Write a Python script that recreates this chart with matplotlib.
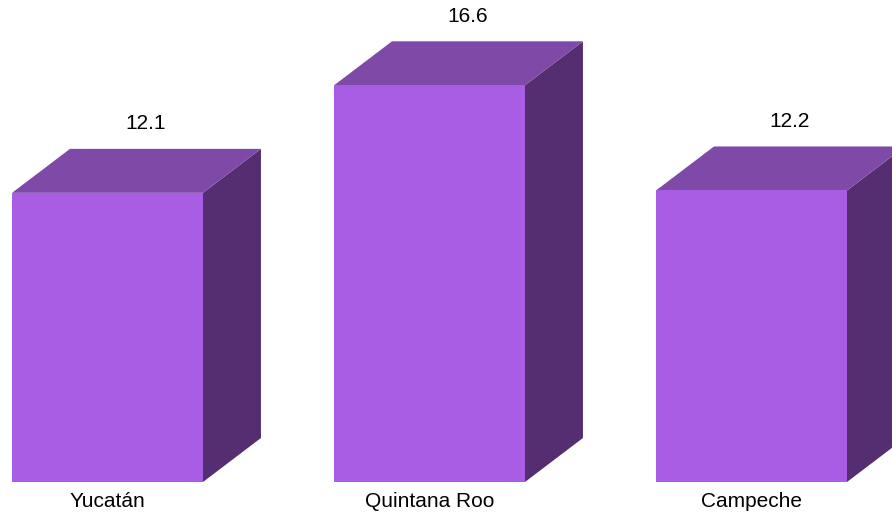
import matplotlib
matplotlib.use("Agg")
import matplotlib.pyplot as plt
from matplotlib.patches import Polygon

categories = ["Yucatán", "Quintana Roo", "Campeche"]
values = [12.1, 16.6, 12.2]
value_labels = ["12.1", "16.6", "12.2"]

front_color = "#A95DE4"
top_color = "#7F49A8"
side_color = "#552E72"

plt.rcParams['font.family'] = ['Liberation Sans', 'DejaVu Sans']

fig = plt.figure(figsize=(8.92, 5.14), dpi=100)
ax = fig.add_axes([0, 0, 1, 1])
ax.set_xlim(-0.3339, 2.4363)
ax.set_ylim(-1.339, 20.17)
ax.axis("off")

width = 0.593
dx = 0.180
dy = 1.841

for i, (cat, v, lab) in enumerate(zip(categories, values, value_labels)):
    x0 = i - width / 2
    x1 = i + width / 2
    # side face
    ax.add_patch(Polygon([(x1, 0), (x1 + dx, dy), (x1 + dx, v + dy), (x1, v)],
                         closed=True, facecolor=side_color, edgecolor="none"))
    # top face
    ax.add_patch(Polygon([(x0, v), (x0 + dx, v + dy), (x1 + dx, v + dy), (x1, v)],
                         closed=True, facecolor=top_color, edgecolor="none"))
    # front face
    ax.add_patch(Polygon([(x0, 0), (x1, 0), (x1, v), (x0, v)],
                         closed=True, facecolor=front_color, edgecolor="none"))
    ax.text(i + 0.118, v + dy + 0.82, lab, ha="center", va="baseline", fontsize=15)
    ax.text(i, -0.42, cat, ha="center", va="top", fontsize=15)

fig.savefig("out.png", dpi=100)
